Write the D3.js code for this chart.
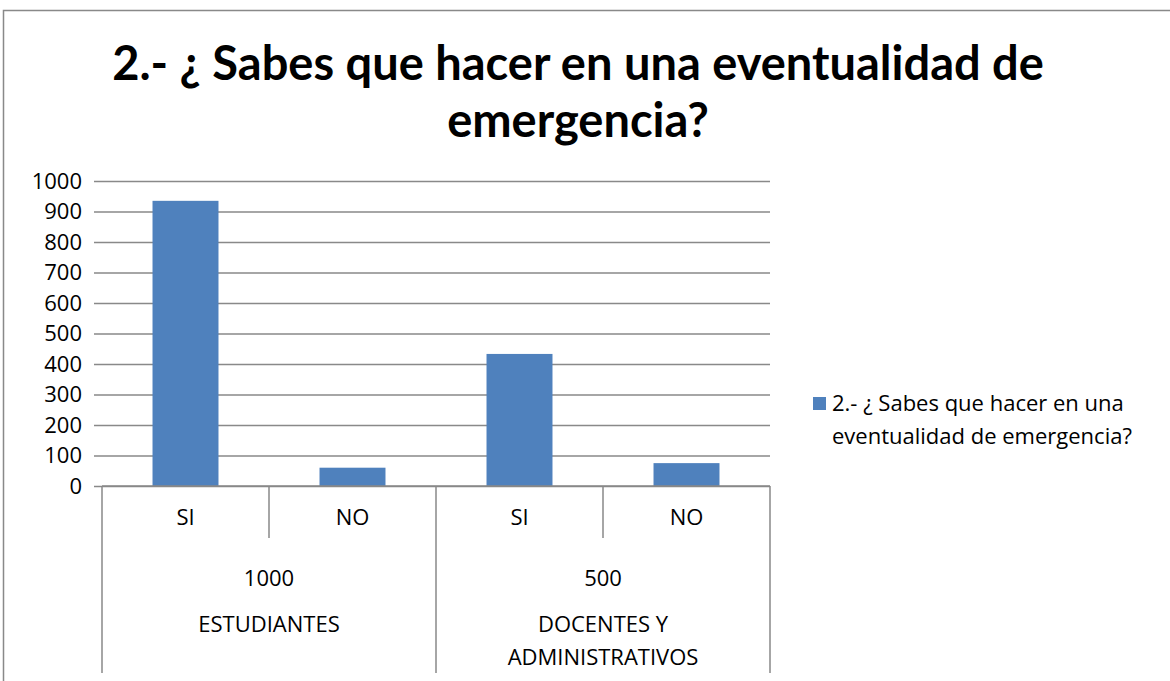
<!DOCTYPE html>
<html>
<head>
<meta charset="utf-8">
<script src="https://cdn.jsdelivr.net/npm/d3@7"></script>
<style>
  body { margin: 0; background: #fff; }
  svg { font-family: "Open Sans", sans-serif; }
</style>
</head>
<body>
<svg width="1170" height="681"></svg>
<script>
const title = ["2.- ¿ Sabes que hacer en una eventualidad de", "emergencia?"];
const groups = ["ESTUDIANTES", "DOCENTES Y ADMINISTRATIVOS"];
const groupTotals = ["1000", "500"];
const answers = ["SI", "NO"];
const values = [935, 60, 433, 75];
const yTicks = [0, 100, 200, 300, 400, 500, 600, 700, 800, 900, 1000];
const legendLines = ["2.- ¿ Sabes que hacer en una", "eventualidad de emergencia?"];

const rows = [];
groups.forEach((g, gi) => answers.forEach((a, ai) => {
    rows.push({id: gi + "-" + a, group: g, answer: a, value: values[gi * answers.length + ai]});
}));

const svg = d3.select("svg"),
    margin = {top: 181, left: 102},
    width = 668,
    height = 305;

const grid = "#898989";
const fs = "22px";

// outer chart frame
svg.append("rect")
    .attr("x", 3.5).attr("y", 10.5)
    .attr("width", 1200).attr("height", 700)
    .attr("fill", "none").attr("stroke", grid).attr("stroke-width", 1.5);

// title
svg.append("text")
    .attr("x", 578).attr("y", 80)
    .attr("text-anchor", "middle")
    .style("font-family", "Lato, sans-serif")
    .style("font-weight", "bold").style("font-size", "47px")
    .selectAll("tspan").data(title).join("tspan")
    .attr("x", 578).attr("dy", (d, i) => i ? 57 : 0)
    .text(d => d);

const g = svg.append("g").attr("transform", `translate(${margin.left},${margin.top})`);

const x = d3.scaleBand()
    .domain(rows.map(d => d.id))
    .range([0, width])
    .paddingInner(0.605)
    .paddingOuter(0.3025);

const y = d3.scaleLinear().domain([0, 1000]).range([height, 0]);

// gridlines + y axis
g.append("g")
    .call(d3.axisLeft(y).tickValues(yTicks).tickFormat(d3.format("d")).tickSize(8).tickPadding(12))
    .call(a => a.select(".domain").remove())
    .call(a => a.selectAll(".tick line").attr("x2", width).attr("x1", -8)
        .attr("stroke", grid).attr("stroke-width", 1.5))
    .call(a => a.selectAll(".tick text").attr("fill", "#000")
        .style("font-size", fs).style("font-family", "'Open Sans', sans-serif"));

// bars
g.selectAll("rect.bar")
    .data(rows)
    .join("rect")
    .attr("class", "bar")
    .attr("x", d => x(d.id))
    .attr("y", d => y(d.value))
    .attr("width", x.bandwidth())
    .attr("height", d => height - y(d.value))
    .attr("fill", "#4f81bd");

// multi-level category axis
const step = x.step();
const lv1 = 52, lv3 = 187;
const axis = g.append("g").attr("stroke", grid).attr("stroke-width", 1.5);
axis.append("line").attr("x1", 0).attr("x2", width).attr("y1", height).attr("y2", height);
d3.range(rows.length + 1).forEach(i => {
    const long = i % answers.length === 0;
    axis.append("line")
        .attr("x1", i * step).attr("x2", i * step)
        .attr("y1", height).attr("y2", height + (long ? lv3 : lv1));
});

const lab = g.append("g").style("font-size", fs).attr("text-anchor", "middle");
lab.selectAll("text.ans").data(rows).join("text")
    .attr("class", "ans")
    .attr("x", d => x(d.id) + x.bandwidth() / 2)
    .attr("y", height + 39)
    .text(d => d.answer);

const gw = step * answers.length;
lab.selectAll("text.tot").data(groupTotals).join("text")
    .attr("class", "tot")
    .attr("x", (d, i) => i * gw + gw / 2)
    .attr("y", height + 100)
    .text(d => d);

const groupLines = [["ESTUDIANTES"], ["DOCENTES Y", "ADMINISTRATIVOS"]];
lab.selectAll("text.grp").data(groupLines).join("text")
    .attr("class", "grp")
    .attr("y", height + 146)
    .each(function(d, i) {
        d3.select(this).selectAll("tspan").data(d).join("tspan")
            .attr("x", i * gw + gw / 2)
            .attr("dy", (t, j) => j ? 33 : 0)
            .text(t => t);
    });

// legend
const leg = svg.append("g").attr("transform", "translate(813,397)");
leg.append("rect").attr("width", 13).attr("height", 13).attr("fill", "#4f81bd");
leg.append("text").style("font-size", fs)
    .selectAll("tspan").data(legendLines).join("tspan")
    .attr("x", 19).attr("y", (d, i) => 14 + i * 33)
    .text(d => d);
</script>
</body>
</html>
